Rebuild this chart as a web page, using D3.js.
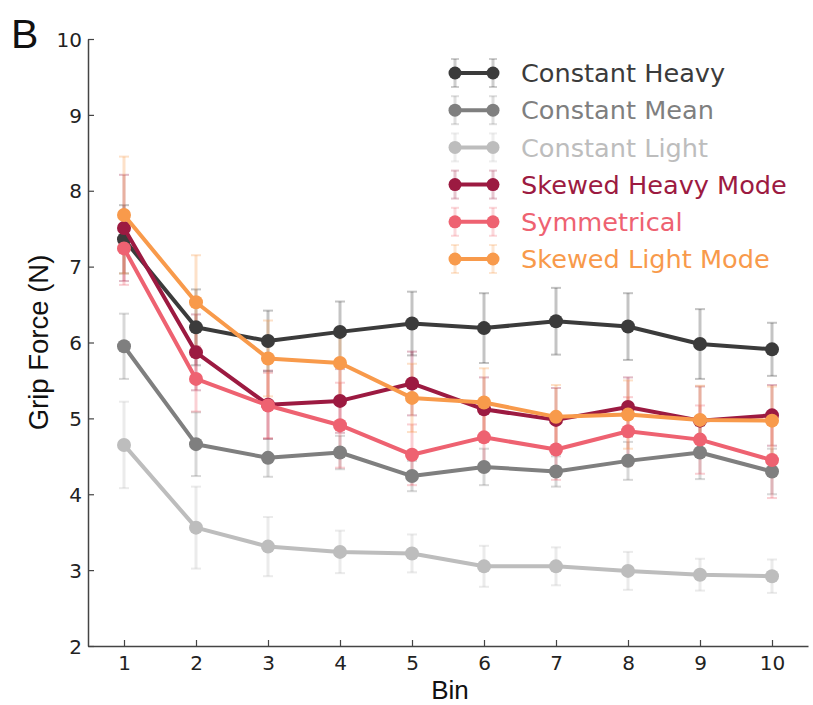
<!DOCTYPE html>
<html>
<head>
<meta charset="utf-8">
<script src="https://cdn.jsdelivr.net/npm/d3@7"></script>
<style>
  body { margin: 0; background: #fff; }
  svg { display: block; font-family: "DejaVu Sans", sans-serif; }
</style>
</head>
<body>
<svg id="chart" width="813" height="705"></svg>
<script>
const width = 813;
const height = 705;

const bins = [1, 2, 3, 4, 5, 6, 7, 8, 9, 10];
const yTicks = [2, 3, 4, 5, 6, 7, 8, 9, 10];

const names = ["Constant Heavy", "Constant Mean", "Constant Light", "Skewed Heavy Mode", "Symmetrical", "Skewed Light Mode"];
const colors = ["#3b3b3b", "#7f7f7f", "#bdbdbd", "#9c1a41", "#ee6271", "#f89a4b"];

const constantHeavy = [7.36, 6.20, 6.02, 6.14, 6.25, 6.19, 6.28, 6.21, 5.98, 5.91];
const constantMean = [5.95, 4.66, 4.48, 4.55, 4.24, 4.36, 4.30, 4.44, 4.55, 4.30];
const constantLight = [4.65, 3.56, 3.31, 3.24, 3.22, 3.05, 3.05, 2.99, 2.94, 2.92];
const skewedHeavy = [7.51, 5.87, 5.18, 5.23, 5.46, 5.12, 4.98, 5.15, 4.97, 5.04];
const symmetrical = [7.24, 5.52, 5.17, 4.91, 4.52, 4.75, 4.59, 4.83, 4.72, 4.45];
const skewedLight = [7.68, 6.53, 5.79, 5.73, 5.27, 5.21, 5.02, 5.05, 4.98, 4.97];

const errHeavy = [0.45, 0.50, 0.40, 0.40, 0.42, 0.46, 0.44, 0.44, 0.46, 0.35];
const errMean = [0.43, 0.42, 0.25, 0.22, 0.20, 0.24, 0.20, 0.25, 0.35, 0.30];
const errLight = [0.57, 0.54, 0.39, 0.28, 0.25, 0.27, 0.25, 0.25, 0.21, 0.22];
const errSkHeavy = [0.70, 0.50, 0.45, 0.42, 0.42, 0.42, 0.42, 0.39, 0.45, 0.40];
const errSym = [0.48, 0.43, 0.43, 0.56, 0.40, 0.42, 0.40, 0.45, 0.45, 0.50];
const errSkLight = [0.77, 0.62, 0.50, 0.45, 0.45, 0.45, 0.42, 0.45, 0.45, 0.45];

const means = [constantHeavy, constantMean, constantLight, skewedHeavy, symmetrical, skewedLight];
const errs = [errHeavy, errMean, errLight, errSkHeavy, errSym, errSkLight];

const series = names.map((n, i) => ({
  name: n,
  color: colors[i],
  values: bins.map((b, j) => ({ bin: b, v: means[i][j], e: errs[i][j] }))
}));

const margin = { l: 88, r: 5, t: 39, b: 59 };
const x = d3.scaleLinear().domain([0.5, 10.5]).range([margin.l, width - margin.r]);
const y = d3.scaleLinear().domain([2, 10]).range([height - margin.b, margin.t]);

const svg = d3.select("#chart");

// error bars first, then lines and markers
for (let s of series) {
  const g = svg.append("g");
  const eb = g.selectAll(".eb").data(s.values).enter().append("g")
    .attr("stroke", s.color).attr("stroke-opacity", 0.3).attr("stroke-width", 3);
  eb.append("line")
    .attr("x1", d => x(d.bin)).attr("x2", d => x(d.bin))
    .attr("y1", d => y(d.v - d.e)).attr("y2", d => y(d.v + d.e));
  eb.append("line")
    .attr("x1", d => x(d.bin) - 5).attr("x2", d => x(d.bin) + 5)
    .attr("y1", d => y(d.v + d.e)).attr("y2", d => y(d.v + d.e)).attr("stroke-width", 2);
  eb.append("line")
    .attr("x1", d => x(d.bin) - 5).attr("x2", d => x(d.bin) + 5)
    .attr("y1", d => y(d.v - d.e)).attr("y2", d => y(d.v - d.e)).attr("stroke-width", 2);
}

for (let s of series) {
  const line = d3.line().x(d => x(d.bin)).y(d => y(d.v));
  svg.append("path").datum(s.values)
    .attr("d", line).attr("fill", "none")
    .attr("stroke", s.color).attr("stroke-width", 4).attr("stroke-linejoin", "round");
  svg.selectAll(null).data(s.values).enter().append("circle")
    .attr("cx", d => x(d.bin)).attr("cy", d => y(d.v)).attr("r", 7)
    .attr("fill", s.color);
}

// axes
const xAxis = d3.axisBottom(x).tickValues(bins).tickSizeInner(-6).tickSizeOuter(0).tickPadding(10);
const yAxis = d3.axisLeft(y).tickValues(yTicks).tickSizeInner(-6).tickSizeOuter(0).tickPadding(6);

const gx = svg.append("g").attr("transform", `translate(0,${height - margin.b})`).call(xAxis);
const gy = svg.append("g").attr("transform", `translate(${margin.l},0)`).call(yAxis);

for (let g of [gx, gy]) {
  g.select(".domain").attr("stroke", "#444").attr("stroke-width", 1.5);
  g.selectAll(".tick line").attr("stroke", "#444").attr("stroke-width", 1.2);
  g.selectAll(".tick text").attr("fill", "#222").style("font-size", "20px").style("font-family", "DejaVu Sans");
}
gx.selectAll(".tick text").attr("dy", "0.71em");
gy.selectAll(".tick text").attr("dy", "0.36em");

svg.append("text")
  .attr("x", (margin.l + width - margin.r) / 2 + 2).attr("y", 699)
  .attr("text-anchor", "middle").attr("fill", "#111")
  .style("font-family", "Liberation Sans, Arial, sans-serif")
  .style("font-size", "26px").text("Bin");

svg.append("text")
  .attr("transform", `translate(48,${(margin.t + height - margin.b) / 2}) rotate(-90)`)
  .attr("text-anchor", "middle").attr("fill", "#111")
  .style("font-family", "Liberation Sans, Arial, sans-serif")
  .style("font-size", "27.5px").text("Grip Force (N)");

svg.append("text")
  .attr("x", 11).attr("y", 48)
  .attr("fill", "#111")
  .style("font-family", "Liberation Sans, Arial, sans-serif")
  .style("font-size", "41px").text("B");

// legend
const legend = svg.append("g").attr("transform", "translate(455,73)");
const rowH = 37.2;
const item = legend.selectAll(".item").data(series).enter().append("g")
  .attr("transform", (d, i) => `translate(0,${i * rowH})`);
for (let px of [0, 38]) {
  item.append("line").attr("x1", px).attr("x2", px).attr("y1", -14).attr("y2", 14)
    .attr("stroke", d => d.color).attr("stroke-opacity", 0.25).attr("stroke-width", 3);
  item.append("line").attr("x1", px - 4).attr("x2", px + 4).attr("y1", -14).attr("y2", -14)
    .attr("stroke", d => d.color).attr("stroke-opacity", 0.25).attr("stroke-width", 2);
  item.append("line").attr("x1", px - 4).attr("x2", px + 4).attr("y1", 14).attr("y2", 14)
    .attr("stroke", d => d.color).attr("stroke-opacity", 0.25).attr("stroke-width", 2);
}
item.append("line").attr("x1", 0).attr("x2", 38).attr("y1", 0).attr("y2", 0)
  .attr("stroke", d => d.color).attr("stroke-width", 4);
item.selectAll(null).data(d => [d, d]).enter().append("circle")
  .attr("cx", (d, i) => i * 38).attr("cy", 0).attr("r", 6.5).attr("fill", d => d.color);
item.append("text").attr("x", 66).attr("y", 0).attr("dy", "0.36em")
  .attr("fill", d => d.color).style("font-size", "25.6px").text(d => d.name);
</script>
</body>
</html>
